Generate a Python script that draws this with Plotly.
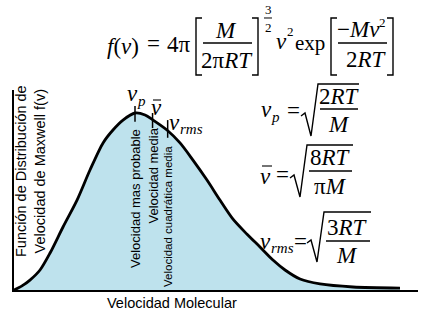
import plotly.graph_objects as go

W, H = 421, 316
SERIF = "Liberation Serif, Times New Roman, serif"
SANS = "Liberation Sans, Arial, Helvetica, sans-serif"

# Curve (velocity in units of v_p, f normalised to peak)
velocity = [0, 0.066, 0.132, 0.215, 0.298, 0.405, 0.521, 0.628, 0.736, 0.818, 0.901,
            1.0, 1.083, 1.149, 1.264, 1.372, 1.479, 1.595, 1.702, 1.810, 1.926,
            2.033, 2.140, 2.240, 2.364, 2.529, 2.802, 3.190]
f_v = [0, 0.023, 0.056, 0.113, 0.209, 0.356, 0.508, 0.678, 0.831, 0.904, 0.960,
       1.0, 0.989, 0.960, 0.904, 0.831, 0.734, 0.621, 0.508, 0.400, 0.315,
       0.243, 0.169, 0.113, 0.062, 0.034, 0.017, 0.011]

# characteristic speeds and tick extents
speed_names = ["vp", "vbar", "vrms"]
speed_values = [1.0, 1.145, 1.27]
tick_top = [1.04, 1.0, 0.96]
tick_bottom = [0.95, 0.915, 0.86]
speed_labels = ["Velocidad mas probable", "Velocidad media", "Velocidad cuadrática media"]

x_title = "Velocidad Molecular"
y_title = "Función de Distribución de<br>Velocidad de Maxwell f(v)"


def px(x):
    return x / W


def py(y):
    return 1 - y / H


fig = go.Figure()
fig.add_trace(go.Scatter(x=velocity, y=f_v, mode="lines", fill="tozeroy",
                         fillcolor="#bee2ed",
                         line=dict(color="black", width=2.8, shape="spline", smoothing=0.8),
                         hoverinfo="skip", showlegend=False))
tx, ty = [], []
for v, t, b in zip(speed_values, tick_top, tick_bottom):
    tx += [v, v, None]
    ty += [t, b, None]
fig.add_trace(go.Scatter(x=tx, y=ty, mode="lines", line=dict(color="black", width=1.5),
                         hoverinfo="skip", showlegend=False))

ann = []
FS = 23   # main serif size
SS = 15   # sub/superscript size


def txt(s, x, y, size=FS, xa="left", ya="middle", family=SERIF, angle=0):
    ann.append(dict(text=s, x=px(x), y=py(y), xref="paper", yref="paper",
                    xanchor=xa, yanchor=ya, showarrow=False, textangle=angle,
                    borderpad=0, borderwidth=0,
                    font=dict(family=family, size=size, color="black")))


shapes = []


def path(pts, w=1.4):
    d = "M " + " L ".join(f"{px(a):.5f},{py(b):.5f}" for a, b in pts)
    shapes.append(dict(type="path", path=d, xref="paper", yref="paper",
                       line=dict(color="black", width=w)))


# main formula
txt("<i>f</i>(<i>v</i>)", 107, 46)
txt("=", 147, 44)
txt("4π", 167, 45)
path([(202, 18), (196, 18), (196, 75), (202, 75)])
path([(203, 43), (252, 43)])
txt("<i>M</i>", 226, 30, xa="center")
txt("2π<i>RT</i>", 227, 60, xa="center")
path([(252, 18), (258, 18), (258, 75), (252, 75)])
txt("3", 268, 10, size=13, xa="center")
path([(264, 18), (272, 18)], w=1)
txt("2", 268, 27, size=13, xa="center")
txt("<i>v</i>", 276, 41)
txt("2", 290, 32, size=13, xa="center")
txt("exp", 295, 43, size=21)
path([(337, 18), (331, 18), (331, 75), (337, 75)])
path([(338, 43), (387, 43)])
txt("−<i>Mv</i>", 337, 29)
txt("2", 382, 22, size=13, xa="center")
txt("2<i>RT</i>", 366, 59, xa="center")
path([(387, 18), (393, 18), (393, 75), (387, 75)])

# right-hand formulas
txt("<i>v</i>", 261, 109)
txt("<i>p</i>", 271, 117, size=SS)
txt("=", 287, 110)
path([(301, 116), (305, 113), (311, 136), (318, 84), (359, 84)])
txt("2<i>RT</i>", 339, 96, xa="center")
path([(320, 109), (358, 109)])
txt("<i>M</i>", 339, 124, xa="center")

txt("<i>v</i>", 260, 176)
path([(262, 166), (272, 166)], w=1.1)
txt("=", 276, 175)
path([(290, 178), (294, 175), (300, 197), (307, 145), (353, 145)])
txt("8<i>RT</i>", 330, 157, xa="center")
path([(309, 171), (352, 171)])
txt("π<i>M</i>", 330, 186, xa="center")

txt("<i>v</i>", 260, 241)
txt("<i>rms</i>", 271, 248, size=SS)
txt("=", 294, 241)
path([(307, 243), (311, 240), (317, 262), (324, 212), (371, 212)])
txt("3<i>RT</i>", 347, 227, xa="center")
path([(326, 241), (370, 241)])
txt("<i>M</i>", 347, 255, xa="center")

# labels at the peak
txt("<i>v</i>", 127, 93)
txt("<i>p</i>", 137, 101, size=SS)
txt("<i>v</i>", 151, 107)
path([(153, 100), (161, 100)], w=1.1)
txt("<i>v</i>", 169, 122)
txt("<i>rms</i>", 180, 129, size=SS)

# rotated descriptions
txt(speed_labels[0], 135, 199, size=13, xa="center", family=SANS, angle=-90)
txt(speed_labels[1], 152.5, 176, size=13, xa="center", family=SANS, angle=-90)
txt(speed_labels[2], 168, 217, size=11.5, xa="center", family=SANS, angle=-90)

# axis titles
txt(y_title, 30, 171, size=14.5, xa="center", family=SANS, angle=-90)
txt(x_title, 172, 303, size=14.5, xa="center", family=SANS)

fig.update_layout(
    width=W, height=H, margin=dict(l=0, r=0, t=0, b=0),
    paper_bgcolor="white", plot_bgcolor="white",
    annotations=ann, shapes=shapes,
    xaxis=dict(domain=[14 / W, 418 / W], range=[0, 404 / 121], showline=True,
               linecolor="black", linewidth=1.5, showgrid=False, zeroline=False,
               showticklabels=False, ticks="", fixedrange=True),
    yaxis=dict(domain=[1 - 290 / H, 1 - 90 / H], range=[0, 200 / 177], showline=True,
               linecolor="black", linewidth=1.5, showgrid=False, zeroline=False,
               showticklabels=False, ticks="", fixedrange=True),
)
fig.write_html("out.html", config={"displayModeBar": False})
